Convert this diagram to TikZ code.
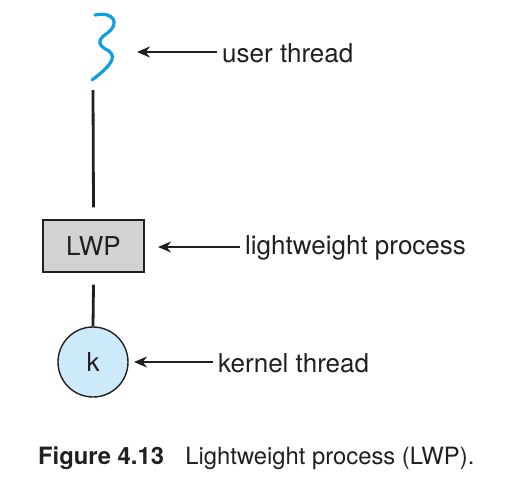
\documentclass[tikz,border=0pt]{standalone}
\usepackage{fontspec}
\setmainfont{TeX Gyre Heros}
\usepackage{tikz}
\usetikzlibrary{arrows.meta, calc}
\definecolor{lwpgray}{RGB}{209,210,212}
\definecolor{kblue}{RGB}{204,234,249}
\definecolor{ublue}{RGB}{16,160,226}
\definecolor{ink}{RGB}{35,31,32}

\begin{document}
\begin{tikzpicture}[x=1pt, y=-1pt, font=\fontsize{26}{31}\selectfont, text=ink]
\useasboundingbox (0,0) rectangle (514,501);
\tikzset{
  link/.style={draw=ink, line width=2.8pt},
  pointer/.style={draw=ink, line width=2.6pt, shorten >=5pt, {Stealth[length=13pt,width=11pt]}-},
  label/.style={anchor=west, inner sep=0pt}
}
\begin{scope}
\coordinate (utop) at (95,15);
\coordinate (ubot) at (92,80);
\draw[ublue, line width=3.2pt, line cap=round](utop) .. controls (114,11) and (121,24) .. (106,34)
  .. controls (96,41) and (99,46) .. (109,51) .. controls (118,58) and (108,68) .. (ubot);
\coordinate (uline) at (93,90);

\node[draw=ink, fill=lwpgray, line width=1.4pt, minimum width=101pt, minimum height=52pt] (lwp) at (93.5,246) {LWP};
\node[circle, draw=ink, fill=kblue, line width=1.4pt, minimum size=70pt, inner sep=0pt] (k) at (93,362) {k};

\draw[link](uline)to($(lwp.north)+(0,-12)$);
\draw[link]($(lwp.south)+(0,12)$)to(k.north);

\node[label] (ut) at (222,53) {user thread};
\coordinate (uta) at (137,52);
\draw[pointer](uta)to(ut.west|-uta);

\node[label] (lw) at (245,248) {lightweight process};
\coordinate (lwa) at (158,247);
\draw[pointer](lwa)to(lw.west|-lwa);

\node[label] (kt) at (218,363) {kernel thread};
\coordinate (kta) at (134,362);
\draw[pointer](kta)to(kt.west|-kta);

\node[label, font=\fontsize{23.8}{28}\selectfont] (cap) at (38,458) {\textbf{Figure 4.13}\hspace{0.9em}Lightweight process (LWP).};
\end{scope}
\end{tikzpicture}
\end{document}
